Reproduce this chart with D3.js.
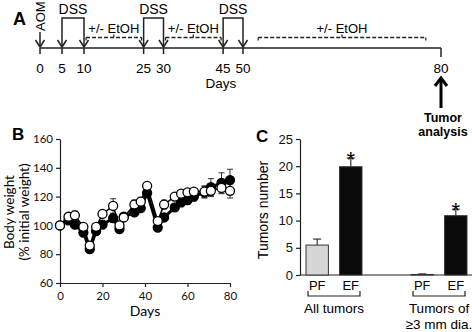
<!DOCTYPE html>
<html>
<head>
<meta charset="utf-8">
<script src="https://cdn.jsdelivr.net/npm/d3@7"></script>
<style>
  body { margin: 0; background: #fff; }
  svg { display: block; }
</style>
</head>
<body>
<svg id="chart" width="472" height="332"></svg>
<script>
// ---- panel A: protocol timeline
const timelineTicks = [0, 5, 10, 25, 30, 45, 50, 80];
const dssPeriods = [[5, 10], [25, 30], [45, 50]];
const etohPeriods = [[10, 25], [30, 45], [52, 78]];
const aomDay = 0;
const analysisDay = 80;

// ---- panel B: body weight (% initial weight)
const weightDays = [0, 4, 7, 11, 14, 17, 20, 25, 28, 30, 35, 38, 41, 46, 49, 54, 57, 60, 63, 68, 71, 76, 80];
const weightOpen = [100, 106, 107, 99, 86, 99, 108, 113.5, 100, 105.5, 114.5, 116.5, 127.5, 103, 114.5, 120, 122, 123, 123.5, 123.5, 124, 126, 124];
const weightOpenErr = [0, 2, 3, 2, 2, 2, 2, 5, 2, 2, 3, 3, 2, 2, 3, 2, 2, 2, 2, 4, 4, 4, 5];
const weightFilled = [100, 103.5, 100.5, 95, 83.5, 96, 100.5, 105, 97.5, 106, 109, 112, 122.5, 98.5, 105.5, 112.5, 116, 117.5, 120, 123, 126.5, 129.5, 131.5];
const weightFilledErr = [0, 2, 2, 2, 2, 2, 2, 3, 2, 2, 2, 2, 2, 2, 2, 2, 3, 3, 3, 4, 6, 7, 7.5];
const weightTicksY = [60, 80, 100, 120, 140, 160];
const weightTicksX = [0, 20, 40, 60, 80];

// ---- panel C: tumors
const tumorGroups = ["All tumors", "Tumors of ≥3 mm dia."];
const tumorDiets = ["PF", "EF"];
const tumorCounts = [[5.5, 19.9], [0.1, 10.9]];
const tumorErr = [[1.1, 1.6], [0.1, 1.2]];
const tumorSignif = [[false, true], [false, true]];
const tumorTicks = [0, 5, 10, 15, 20, 25];

const svg = d3.select("#chart");
const ARIAL = "'Liberation Sans', Arial, sans-serif";

// ============ A ============
const gA = svg.append("g");
const xA = d3.scaleLinear().domain([0, 10, 50, 80]).range([40, 84, 243, 441]);
const axisY = 48;

const arrowHead = (g, x, y) => {
    g.append("path")
        .attr("d", `M${x - 4.5},${y - 7}L${x},${y}L${x + 4.5},${y - 7}`)
        .attr("fill", "none").attr("stroke", "#222").attr("stroke-width", 1.5);
};

gA.append("text").text("A")
    .attr("x", 13).attr("y", 25)
    .attr("font-family", ARIAL).attr("font-weight", "bold").attr("font-size", 18);

gA.append("line")
    .attr("x1", xA(0)).attr("x2", xA(80))
    .attr("y1", axisY).attr("y2", axisY)
    .attr("stroke", "#222").attr("stroke-width", 1.5);

gA.selectAll(".tick").data(timelineTicks).join("line")
    .attr("x1", d => xA(d)).attr("x2", d => xA(d))
    .attr("y1", axisY).attr("y2", d => d === 80 ? axisY + 9 : axisY + 6)
    .attr("stroke", "#222").attr("stroke-width", 1.5);

gA.selectAll(".ticklabel").data(timelineTicks).join("text")
    .attr("x", d => xA(d)).attr("y", 73)
    .attr("text-anchor", "middle")
    .attr("font-family", ARIAL).attr("font-size", 13.5)
    .text(d => d);

gA.append("text").text("Days")
    .attr("x", 221).attr("y", 88).attr("text-anchor", "middle")
    .attr("font-family", ARIAL).attr("font-size", 13.5);

// AOM
gA.append("text").text("AOM")
    .attr("transform", `translate(${xA(aomDay) + 5},31) rotate(-90)`)
    .attr("font-family", ARIAL).attr("font-size", 13);
gA.append("line")
    .attr("x1", xA(aomDay)).attr("x2", xA(aomDay))
    .attr("y1", 32).attr("y2", axisY - 1)
    .attr("stroke", "#222").attr("stroke-width", 1.5);
arrowHead(gA, xA(aomDay), axisY - 1);

// DSS
const dssTop = 18;
dssPeriods.forEach(([s, e]) => {
    gA.append("path")
        .attr("d", `M${xA(s)},${axisY - 1}V${dssTop}H${xA(e)}V${axisY - 1}`)
        .attr("fill", "none").attr("stroke", "#222").attr("stroke-width", 1.5);
    arrowHead(gA, xA(s), axisY - 1);
    arrowHead(gA, xA(e), axisY - 1);
    gA.append("text").text("DSS")
        .attr("x", (xA(s) + xA(e)) / 2).attr("y", dssTop - 4)
        .attr("text-anchor", "middle")
        .attr("font-family", ARIAL).attr("font-size", 14);
});

// EtOH
const etohY = 37.5;
etohPeriods.forEach(([s, e]) => {
    const x1 = xA(s) + 2, x2 = xA(e) - 2, xm = (x1 + x2) / 2;
    gA.append("line")
        .attr("x1", x1).attr("x2", x2).attr("y1", etohY).attr("y2", etohY)
        .attr("stroke", "#222").attr("stroke-width", 1.5)
        .attr("stroke-dasharray", "4,2");
    gA.append("path")
        .attr("d", `M${x1},${etohY + 3}V${etohY}M${x2},${etohY + 3}V${etohY}M${xm},${etohY}V${etohY - 3}`)
        .attr("stroke", "#222").attr("stroke-width", 1.2);
    gA.append("text").text("+/- EtOH")
        .attr("x", xm).attr("y", etohY - 5)
        .attr("text-anchor", "middle")
        .attr("font-family", ARIAL).attr("font-size", 13);
});

// tumor analysis arrow
const ax = xA(analysisDay);
gA.append("line")
    .attr("x1", ax).attr("x2", ax).attr("y1", 108).attr("y2", 79)
    .attr("stroke", "#000").attr("stroke-width", 3);
gA.append("path")
    .attr("d", `M${ax - 6},${86}L${ax},${78}L${ax + 6},${86}`)
    .attr("fill", "none").attr("stroke", "#000").attr("stroke-width", 3);
gA.append("text").text("Tumor")
    .attr("x", 443).attr("y", 122).attr("text-anchor", "middle")
    .attr("font-family", ARIAL).attr("font-weight", "bold").attr("font-size", 12.5);
gA.append("text").text("analysis")
    .attr("x", 443).attr("y", 136).attr("text-anchor", "middle")
    .attr("font-family", ARIAL).attr("font-weight", "bold").attr("font-size", 12.5);

// ============ B ============
const gB = svg.append("g");
const LATO = "Lato, 'Open Sans', sans-serif";
const xB = d3.scaleLinear().domain([0, 80]).range([60, 230]);
const yB = d3.scaleLinear().domain([60, 160]).range([283, 139]);

gB.append("text").text("B")
    .attr("x", 12).attr("y", 140)
    .attr("font-family", ARIAL).attr("font-weight", "bold").attr("font-size", 17);

const axB = gB.append("g").attr("transform", "translate(0,283)")
    .call(d3.axisBottom(xB).tickValues(weightTicksX).tickSize(4).tickSizeOuter(0));
const ayB = gB.append("g").attr("transform", "translate(60,0)")
    .call(d3.axisLeft(yB).tickValues(weightTicksY).tickSize(4).tickSizeOuter(0));
[axB, ayB].forEach(a => {
    a.selectAll("path, line").attr("stroke", "#222").attr("stroke-width", 1.2);
    a.selectAll("text").attr("font-family", LATO).attr("font-size", 11.5).attr("fill", "#111");
});
axB.selectAll("text").attr("dy", "0.85em");

gB.append("text").text("Days")
    .attr("x", 145).attr("y", 316).attr("text-anchor", "middle")
    .attr("font-family", LATO).attr("font-size", 14);
gB.append("text").text("Body weight")
    .attr("transform", "translate(14,212) rotate(-90)").attr("text-anchor", "middle")
    .attr("font-family", LATO).attr("font-size", 13.5);
gB.append("text").text("(% initial weight)")
    .attr("transform", "translate(29,212) rotate(-90)").attr("text-anchor", "middle")
    .attr("font-family", LATO).attr("font-size", 13.5);

const seriesB = [
    { v: weightFilled, e: weightFilledErr, filled: true },
    { v: weightOpen, e: weightOpenErr, filled: false }
];
seriesB.forEach(s => {
    const pts = weightDays.map((d, i) => ({ d, v: s.v[i], e: s.e[i] }));
    const eb = gB.append("g").selectAll("g").data(pts.filter(p => p.e > 0)).join("g");
    eb.append("line")
        .attr("x1", p => xB(p.d)).attr("x2", p => xB(p.d))
        .attr("y1", p => yB(p.v - p.e)).attr("y2", p => yB(p.v + p.e))
        .attr("stroke", "#333").attr("stroke-width", 1);
    [1, -1].forEach(sg => {
        eb.append("line")
            .attr("x1", p => xB(p.d) - 3).attr("x2", p => xB(p.d) + 3)
            .attr("y1", p => yB(p.v + sg * p.e)).attr("y2", p => yB(p.v + sg * p.e))
            .attr("stroke", "#333").attr("stroke-width", 1);
    });
});
seriesB.forEach(s => {
    const pts = weightDays.map((d, i) => ({ d, v: s.v[i] }));
    gB.append("path").datum(pts)
        .attr("d", d3.line().x(p => xB(p.d)).y(p => yB(p.v)))
        .attr("fill", "none").attr("stroke", "#000")
        .attr("stroke-width", s.filled ? 3 : 1.5);
    gB.append("g").selectAll("circle").data(pts).join("circle")
        .attr("cx", p => xB(p.d)).attr("cy", p => yB(p.v))
        .attr("r", 4.5)
        .attr("fill", s.filled ? "#000" : "#fff")
        .attr("stroke", "#000").attr("stroke-width", 1.3);
});

// ============ C ============
const gC = svg.append("g");
const yC = d3.scaleLinear().domain([0, 25]).range([275, 139]);
const x0 = d3.scaleBand().domain(tumorGroups).range([306, 467]).paddingInner(0.467).paddingOuter(0);
const x1 = d3.scaleBand().domain(tumorDiets).range([0, x0.bandwidth()]).paddingInner(0.333).paddingOuter(0);

gC.append("text").text("C")
    .attr("x", 256).attr("y", 142)
    .attr("font-family", ARIAL).attr("font-weight", "bold").attr("font-size", 17);

gC.append("line")
    .attr("x1", 300).attr("x2", 472).attr("y1", 275).attr("y2", 275)
    .attr("stroke", "#222").attr("stroke-width", 1.2);
const ayC = gC.append("g").attr("transform", "translate(300,0)")
    .call(d3.axisLeft(yC).tickValues(tumorTicks).tickSize(4).tickSizeOuter(0));
ayC.selectAll("path, line").attr("stroke", "#222").attr("stroke-width", 1.2);
ayC.selectAll("text").attr("font-family", ARIAL).attr("font-size", 13).attr("fill", "#111");

gC.append("text").text("Tumors number")
    .attr("transform", "translate(268,210) rotate(-90)").attr("text-anchor", "middle")
    .attr("font-family", ARIAL).attr("font-size", 14);

tumorGroups.forEach((g, gi) => {
    const gx = x0(g);
    tumorDiets.forEach((dt, di) => {
        const v = tumorCounts[gi][di], e = tumorErr[gi][di];
        const bx = gx + x1(dt), bw = x1.bandwidth(), cx = bx + bw / 2;
        gC.append("line")
            .attr("x1", cx).attr("x2", cx).attr("y1", yC(v)).attr("y2", yC(v + e))
            .attr("stroke", "#444").attr("stroke-width", 1.3);
        gC.append("line")
            .attr("x1", cx - 4).attr("x2", cx + 4).attr("y1", yC(v + e)).attr("y2", yC(v + e))
            .attr("stroke", "#444").attr("stroke-width", 1.3);
        gC.append("rect")
            .attr("x", bx).attr("width", bw)
            .attr("y", yC(v)).attr("height", yC(0) - yC(v))
            .attr("fill", dt === "PF" ? "#d6d6d6" : "#0a0a0a")
            .attr("stroke", "#333").attr("stroke-width", 1);
        if (tumorSignif[gi][di]) {
            gC.append("text").text("*")
                .attr("x", cx).attr("y", yC(v + e) + 9).attr("text-anchor", "middle")
                .attr("font-family", ARIAL).attr("font-size", 22);
        }
        gC.append("text").text(dt)
            .attr("x", cx).attr("y", 290).attr("text-anchor", "middle")
            .attr("font-family", ARIAL).attr("font-size", 13);
    });
    const bl = gx + 2, br = gx + x0.bandwidth() - 2;
    gC.append("path")
        .attr("d", `M${bl},291V296H${br}V291`)
        .attr("fill", "none").attr("stroke", "#222").attr("stroke-width", 1.2);
    const words = gi === 0 ? [g] : ["Tumors of", "≥3 mm dia."];
    words.forEach((w, wi) => {
        gC.append("text").text(w)
            .attr("x", gx + x0.bandwidth() / 2).attr("y", 313 + wi * 16)
            .attr("text-anchor", "middle")
            .attr("font-family", ARIAL).attr("font-size", 13.5);
    });
});
</script>
</body>
</html>
